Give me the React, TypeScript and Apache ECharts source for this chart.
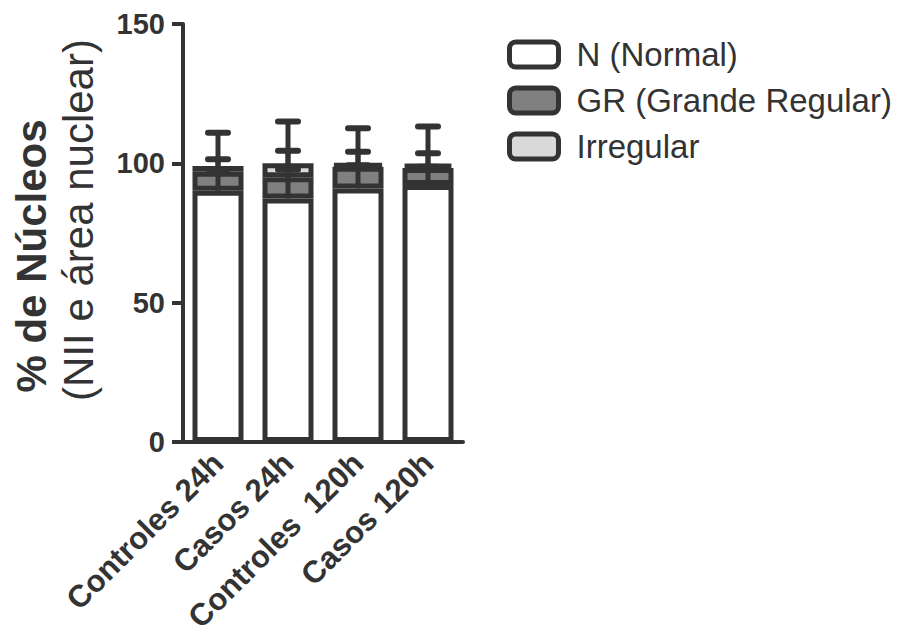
import React, { useEffect, useRef } from "react";
import * as echarts from "echarts";

const categories = ["Controles 24h", "Casos 24h", "Controles  120h", "Casos 120h"];
const normal = [90.2, 87.4, 91.0, 92.2];
const grande = [6.8, 7.6, 7.8, 6.1];
const irregular = [2.0, 5.0, 1.0, 1.5];
const sdNormal = [11.3, 10.4, 13.2, 11.4];
const sdGrande = [1.0, 9.5, 0.5, 0.5];
const sdIrregular = [12.0, 15.0, 12.8, 13.4];
const yTicks = [0, 50, 100, 150];

const DARK = "#333333";
const FONT = "'Liberation Sans', Arial, Helvetica, sans-serif";

export default function App() {
  const ref = useRef<HTMLDivElement>(null);
  useEffect(() => {
    document.body.style.margin = "0";
    if (!ref.current) return;
    const chart = echarts.init(ref.current, null, { renderer: "svg" });

    const errData: number[][] = [];
    categories.forEach((_, i) => {
      const tN = normal[i];
      const tG = tN + grande[i];
      const tI = tG + irregular[i];
      errData.push([i, tN, tN + sdNormal[i]]);
      errData.push([i, tG, tG + sdGrande[i]]);
      errData.push([i, tI, tI + sdIrregular[i]]);
    });

    const barCommon = {
      type: "bar",
      stack: "total",
      barWidth: 51,
      itemStyle: { borderColor: DARK, borderWidth: 5 },
      emphasis: { disabled: true },
    };

    chart.setOption({
      animation: false,
      textStyle: { fontFamily: FONT },
      grid: { left: 183, top: 24, width: 280, height: 418, containLabel: false },
      legend: {
        orient: "vertical",
        left: 502,
        top: 33,
        itemWidth: 49,
        itemHeight: 25,
        itemGap: 13,
        icon: "roundRect",
        selectedMode: false,
        itemStyle: { borderColor: DARK, borderWidth: 5 },
        textStyle: { fontSize: 33, color: DARK, fontFamily: FONT, padding: [0, 0, 0, 13] },
        data: ["N (Normal)", "GR (Grande Regular)", "Irregular"],
      },
      xAxis: {
        type: "category",
        data: categories,
        axisLine: { lineStyle: { color: DARK, width: 4 } },
        axisTick: { show: false },
        axisLabel: {
          rotate: 45,
          interval: 0,
          margin: 16,
          fontSize: 31,
          fontWeight: "bold",
          color: DARK,
          fontFamily: FONT,
        },
      },
      yAxis: {
        type: "value",
        min: yTicks[0],
        max: yTicks[yTicks.length - 1],
        interval: 50,
        axisLine: { show: true, lineStyle: { color: DARK, width: 4 } },
        axisTick: { show: true, length: 11, lineStyle: { color: DARK, width: 4 } },
        splitLine: { show: false },
        axisLabel: { fontSize: 29, fontWeight: "bold", color: DARK, margin: 18, fontFamily: FONT },
      },
      graphic: [
        {
          type: "text",
          x: 31,
          y: 256,
          rotation: Math.PI / 2,
          style: {
            text: "% de Núcleos",
            font: `bold 42px ${FONT}`,
            fill: DARK,
            textAlign: "center",
            textVerticalAlign: "middle",
          },
        },
        {
          type: "text",
          x: 78,
          y: 220,
          rotation: Math.PI / 2,
          style: {
            text: "(NII e área nuclear)",
            font: `42px ${FONT}`,
            fill: DARK,
            textAlign: "center",
            textVerticalAlign: "middle",
          },
        },
      ],
      series: [
        { ...barCommon, name: "N (Normal)", data: normal, itemStyle: { ...barCommon.itemStyle, color: "#ffffff" } },
        { ...barCommon, name: "GR (Grande Regular)", data: grande, itemStyle: { ...barCommon.itemStyle, color: "#808080" } },
        { ...barCommon, name: "Irregular", data: irregular, itemStyle: { ...barCommon.itemStyle, color: "#d9d9d9" } },
        {
          type: "custom",
          name: "err",
          z: 5,
          encode: { x: 0, y: 2 },
          data: errData,
          renderItem: (params: any, api: any) => {
            const x = api.value(0);
            const p0 = api.coord([x, api.value(1)]);
            const p1 = api.coord([x, api.value(2)]);
            const half = 10;
            return {
              type: "group",
              children: [
                {
                  type: "line",
                  shape: { x1: p0[0], y1: p0[1], x2: p1[0], y2: p1[1] },
                  style: { stroke: DARK, lineWidth: 5 },
                },
                {
                  type: "line",
                  shape: { x1: p1[0] - half, y1: p1[1], x2: p1[0] + half, y2: p1[1] },
                  style: { stroke: DARK, lineWidth: 6, lineCap: "round" },
                },
              ],
            };
          },
        },
      ],
    });
    return () => chart.dispose();
  }, []);
  return <div ref={ref} style={{ width: 901, height: 636 }} />;
}
